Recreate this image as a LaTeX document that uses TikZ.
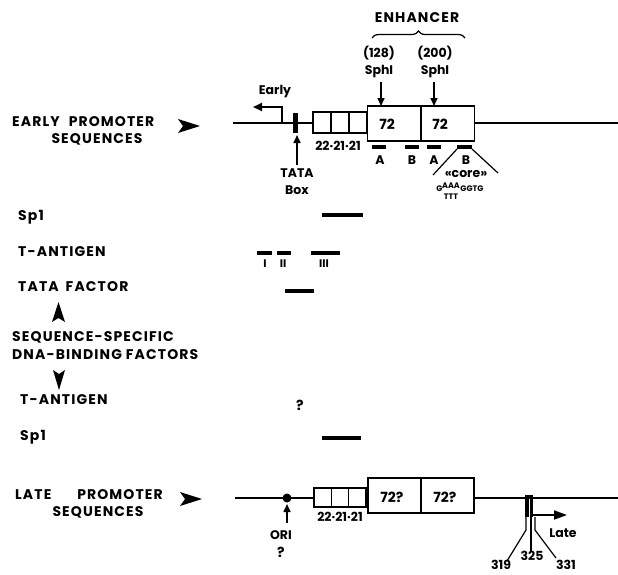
\documentclass[tikz,border=0pt]{standalone}
\usepackage{fontspec}
\setmainfont{Poppins}
\newfontfamily\spaced[LetterSpace=8]{Poppins}
\usetikzlibrary{arrows.meta,decorations.pathreplacing}
\begin{document}
\begin{tikzpicture}[x=1pt,y=-1pt,
  lbl/.style={font=\fontsize{14}{16}\spaced\bfseries, inner sep=0pt},
  mid/.style={font=\fontsize{14}{16}\selectfont\bfseries, inner sep=0pt},
  sml/.style={font=\fontsize{12.5}{14}\selectfont\bfseries, inner sep=0pt},
  rom/.style={font=\fontsize{11}{12}\selectfont\bfseries, inner sep=0pt},
  tny/.style={font=\fontsize{8}{9}\selectfont\bfseries, inner sep=0pt},
  dna/.style={line width=1.8pt},
  unit/.style={draw, line width=1.3pt, fill=white, minimum height=21pt, minimum width=18pt, inner sep=0pt, outer sep=0pt},
  lunit/.style={unit, minimum height=19pt, minimum width=17.3pt},
  rep/.style={draw, line width=1.3pt, fill=white, minimum height=35pt, minimum width=53.5pt, inner sep=0pt, outer sep=0pt},
  bar/.style={line width=3.5pt},
  thinl/.style={line width=1.2pt},
  arr/.style={line width=1.6pt, -{Triangle[length=8pt,width=7pt]}},
  tip/.style={fill=black, draw=none},
]
\useasboundingbox[fill=white] (0,0) rectangle (618,574);

% ---------- EARLY ----------
\node[lbl, anchor=west] (ep1) at (12,122) {EARLY\hspace{9pt}PROMOTER};
\node[lbl] (ep2) at (97,139) {SEQUENCES};
\fill[tip] (178,119) -- (200,126) -- (178,133) -- (183,126) -- cycle;

\coordinate (eL) at (233,123);
\coordinate (eR) at (618,123);
\draw[dna] (eL) -- (eR);

\node[unit] (u1) at (322,122.5) {};
\node[unit] (u2) at (340,122.5) {};
\node[unit] (u3) at (358,122.5) {};
\node[rep] (r1) at (394.2,123.5) {};
\node[rep] (r2) at (447.7,123.5) {};
\node[mid] (t72a) at (387,124) {72};
\node[mid] (t72b) at (440,124) {72};
\node[sml] (e222) at (338,146) {22·21·21};

\node[fill=black, minimum width=5pt, minimum height=20pt, inner sep=0pt] (tb) at (295.5,123) {};
\coordinate (ea0) at (282,123);
\coordinate (ea1) at (253,107);
\draw[line width=1.8pt, -{Triangle[length=9pt,width=8pt]}] (ea0) |- (ea1);
\node[sml] (early) at (275,92) {Early};

\coordinate (tba) at (297,165);
\coordinate (tbb) at (297,135);
\draw[arr] (tba) -- (tbb);
\node[sml] (tata) at (297,173) {TATA};
\node[sml] (box) at (297,190) {Box};

\node[lbl] (enh) at (417,18) {ENHANCER};
\coordinate (brL) at (372,38);
\coordinate (brR) at (465,38);
\draw[thinl, decorate, decoration={brace, amplitude=7pt}] (brL) -- (brR);
\node[sml] (n128) at (379,53) {(128)};
\node[sml] (sph1) at (379,72) {SphI};
\node[sml] (n200) at (435,53) {(200)};
\node[sml] (sph2) at (435,72) {SphI};
\coordinate (s1a) at (381,82);
\coordinate (s1b) at (381,106);
\coordinate (s2a) at (434,82);
\coordinate (s2b) at (434,106);
\draw[arr] (s1a) -- (s1b);
\draw[arr] (s2a) -- (s2b);

\draw[bar] (372,147) -- (386,147);
\draw[bar] (405,147) -- (419,147);
\draw[bar] (427,147) -- (441,147);
\draw[bar] (457,147) -- (472,147);
\node[sml] (la1) at (380,160) {A};
\node[sml] (lb1) at (412,160) {B};
\node[sml] (la2) at (434,160) {A};
\node[sml] (lb2) at (466,160) {B};
\coordinate (c1a) at (457,149);
\coordinate (c1b) at (433,175);
\coordinate (c2a) at (472,149);
\coordinate (c2b) at (498,173);
\draw[thinl] (c1a) -- (c1b);
\draw[thinl] (c2a) -- (c2b);
\node[sml] (core) at (466,174) {«core»};
\node[tny] (sg) at (439.5,189) {G};
\node[tny] (saaa) at (451,186) {AAA};
\node[tny] (sttt) at (451,197) {TTT};
\node[tny] (sggtg) at (472,189) {GGTG};

% ---------- factors ----------
\node[lbl, anchor=west] (sp1a) at (18,217) {Sp1};
\draw[bar] (322,215) -- (363,215);

\node[lbl, anchor=west] (tag1) at (18,252) {T-ANTIGEN};
\draw[bar] (257,253) -- (272,253);
\draw[bar] (277,253) -- (291,253);
\draw[bar] (311,253) -- (340,253);
\node[rom] (r1l) at (265,264) {I};
\node[rom] (r2l) at (283,264) {II};
\node[rom] (r3l) at (324,264) {III};

\node[lbl, anchor=west] (tataf) at (18,287) {TATA\hspace{7pt}FACTOR};
\draw[bar] (285,291) -- (314,291);

\fill[tip] (52,322) -- (58.5,302) -- (65,322) -- (58.5,318) -- cycle;
\node[lbl, anchor=west] (ssf1) at (12,337) {SEQUENCE-SPECIFIC};
\node[lbl, anchor=west] (ssf2) at (12,355) {DNA-BINDING\hspace{4pt}FACTORS};
\fill[tip] (53,370) -- (59,390) -- (65,370) -- (59,374) -- cycle;

\node[lbl, anchor=west] (tag2) at (20,400) {T-ANTIGEN};
\node[lbl] (qm) at (300,405) {?};
\node[lbl, anchor=west] (sp1b) at (20,437) {Sp1};
\draw[bar] (322,438) -- (361,438);

% ---------- LATE ----------
\node[lbl, anchor=west] (lp1) at (15,495) {LATE};
\node[lbl, anchor=east] (lp1b) at (163,495) {PROMOTER};
\node[lbl] (lp2) at (98,512) {SEQUENCES};
\fill[tip] (180,492) -- (202,499) -- (180,506) -- (185,499) -- cycle;

\coordinate (lL) at (235,498);
\coordinate (lR) at (618,498);
\draw[dna] (lL) -- (lR);

\node[circle, fill=black, minimum size=9pt, inner sep=0pt] (ori) at (287,498) {};
\coordinate (oa) at (287,523);
\coordinate (ob) at (287,504);
\draw[arr] (oa) -- (ob);
\node[sml] (orit) at (281,535) {ORI};
\node[lbl] (oriq) at (281,552) {?};

\node[lunit] (v1) at (322.7,497.5) {};
\node[lunit] (v2) at (340,497.5) {};
\node[lunit] (v3) at (357.3,497.5) {};
\node[sml] (l222) at (340,517) {22·21·21};
\node[rep, minimum width=53pt] (q1) at (394.5,495.5) {};
\node[rep, minimum width=53pt] (q2) at (447.5,495.5) {};
\node[mid] (t72c) at (392,497) {72?};
\node[mid] (t72d) at (445,497) {72?};

\node[fill=black, minimum width=8pt, minimum height=22pt, inner sep=0pt] (lm) at (529,506) {};
\draw[white, line width=0.8pt] (529.8,499) -- (529.8,517);
\coordinate (la0) at (533,515);
\coordinate (la1) at (567,515);
\draw[line width=1.8pt, -{Triangle[length=13pt,width=9pt]}] (la0) -- (la1);
\node[sml] (late) at (563,533) {Late};

\draw[thinl] (526,517) -- (526,530) -- (507,561);
\draw[thinl] (531,517) -- (531,551);
\draw[thinl] (535,517) -- (535,530) -- (556,558);
\node[sml] (n319) at (501,565) {319};
\node[sml] (n325) at (532,556) {325};
\node[sml] (n331) at (566,564.5) {331};
\end{tikzpicture}
\end{document}
